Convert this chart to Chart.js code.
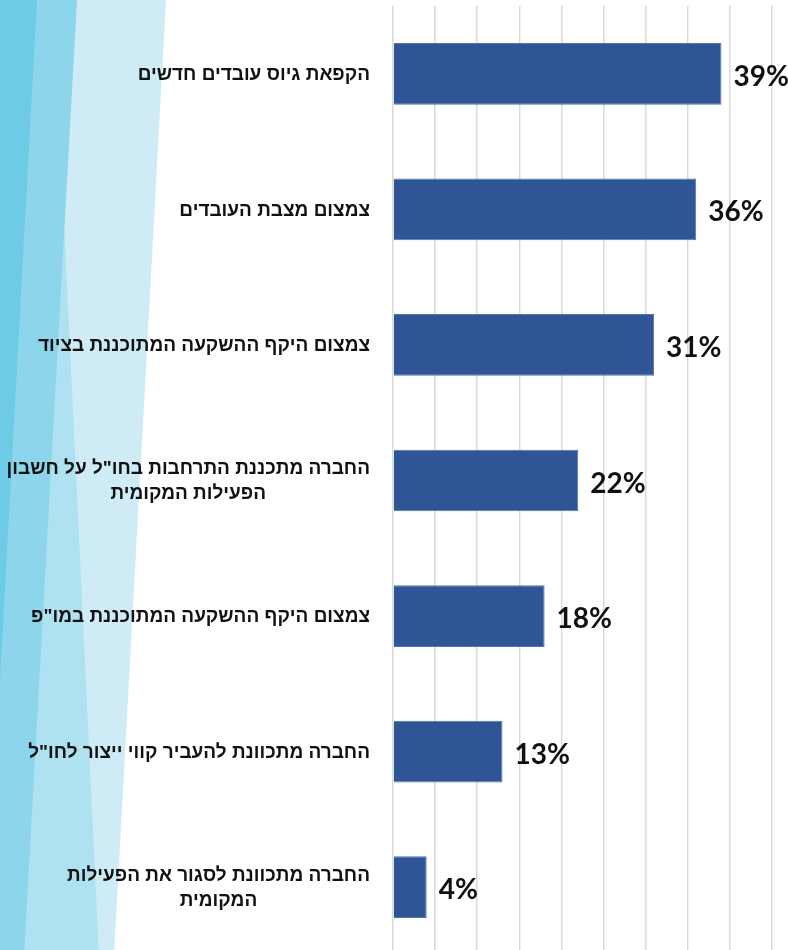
<!DOCTYPE html>
<html lang="he">
<head>
<meta charset="utf-8">
<title>סיבות</title>
<script src="https://cdn.jsdelivr.net/npm/chart.js@4.4.1/dist/chart.umd.min.js"></script>
<style>
    html, body { margin: 0; padding: 0; background: #fff; overflow: hidden; }
    #chart { display: block; }
</style>
</head>
<body>
<canvas id="chart" width="788" height="956"></canvas>
<script>
// Chart data
const categories = [
    'הקפאת גיוס עובדים חדשים',
    'צמצום מצבת העובדים',
    'צמצום היקף ההשקעה המתוכננת בציוד',
    ['החברה מתכננת התרחבות בחו"ל על חשבון', 'הפעילות המקומית'],
    'צמצום היקף ההשקעה המתוכננת במו"פ',
    'החברה מתכוונת להעביר קווי ייצור לחו"ל',
    ['החברה מתכוונת לסגור את הפעילות', 'המקומית']
];
const values = [39, 36, 31, 22, 18, 13, 4];
const axisMax = 45;
const axisStep = 5;

// Light blue stripes on the left side
const backgroundStripes = {
    id: 'backgroundStripes',
    beforeDraw(chart) {
        const ctx = chart.ctx;
        const shapes = [
            { color: '#CFECF6', pts: [[0, 0], [166, 0], [114, 956], [0, 956]] },
            { color: '#AEE2F0', pts: [[63, 200], [99, 956], [23, 956]] },
            { color: '#8CD5EA', pts: [[0, 0], [77, 0], [24, 956], [0, 956]] },
            { color: '#6ECBE5', pts: [[0, 0], [37, 0], [0, 680]] }
        ];
        ctx.save();
        shapes.forEach(s => {
            ctx.fillStyle = s.color;
            ctx.beginPath();
            s.pts.forEach((p, i) => i ? ctx.lineTo(p[0], p[1]) : ctx.moveTo(p[0], p[1]));
            ctx.closePath();
            ctx.fill();
        });
        ctx.restore();
    }
};

// Hebrew category labels: block right-aligned, lines centred
const categoryLabels = {
    id: 'categoryLabels',
    afterDraw(chart) {
        const ctx = chart.ctx;
        const yScale = chart.scales.y;
        const right = 370;
        const lineHeight = 25;
        ctx.save();
        ctx.font = 'bold 19px "Liberation Sans", Arial, sans-serif';
        ctx.fillStyle = '#111';
        ctx.direction = 'rtl';
        ctx.textAlign = 'center';
        ctx.textBaseline = 'middle';
        chart.data.labels.forEach((label, i) => {
            const lines = Array.isArray(label) ? label : [label];
            const widest = Math.max(...lines.map(l => ctx.measureText(l).width));
            const cx = right - widest / 2;
            const cy = yScale.getPixelForValue(i);
            const top = cy - (lines.length - 1) * lineHeight / 2;
            lines.forEach((line, j) => ctx.fillText(line, cx, top + j * lineHeight + 1));
        });
        ctx.restore();
    }
};

// Percent labels next to each bar
const valueLabels = {
    id: 'valueLabels',
    afterDatasetsDraw(chart) {
        const ctx = chart.ctx;
        const meta = chart.getDatasetMeta(0);
        ctx.save();
        ctx.font = 'bold 28px Lato, "Open Sans", sans-serif';
        ctx.fillStyle = '#111';
        ctx.textAlign = 'left';
        ctx.textBaseline = 'middle';
        meta.data.forEach((bar, i) => {
            ctx.fillText(chart.data.datasets[0].data[i] + '%', bar.x + 12, bar.y + 3);
        });
        ctx.restore();
    }
};

new Chart(document.getElementById('chart'), {
    type: 'bar',
    data: {
        labels: categories,
        datasets: [{
            data: values,
            backgroundColor: '#2F5597',
            borderColor: '#5076B0',
            borderWidth: 1,
            categoryPercentage: 1,
            barPercentage: 0.455
        }]
    },
    options: {
        indexAxis: 'y',
        responsive: false,
        animation: false,
        layout: {
            padding: { left: 393, right: 16, top: 6, bottom: 1 }
        },
        scales: {
            x: {
                min: 0,
                max: axisMax,
                grid: {
                    color: '#D9D9D9',
                    lineWidth: 1.5,
                    drawTicks: false
                },
                border: { display: false },
                ticks: { display: false, stepSize: axisStep },
                afterFit(scale) { scale.height = 0; }
            },
            y: {
                display: false
            }
        },
        plugins: {
            legend: { display: false },
            tooltip: { enabled: false }
        }
    },
    plugins: [backgroundStripes, categoryLabels, valueLabels]
});
</script>
</body>
</html>
